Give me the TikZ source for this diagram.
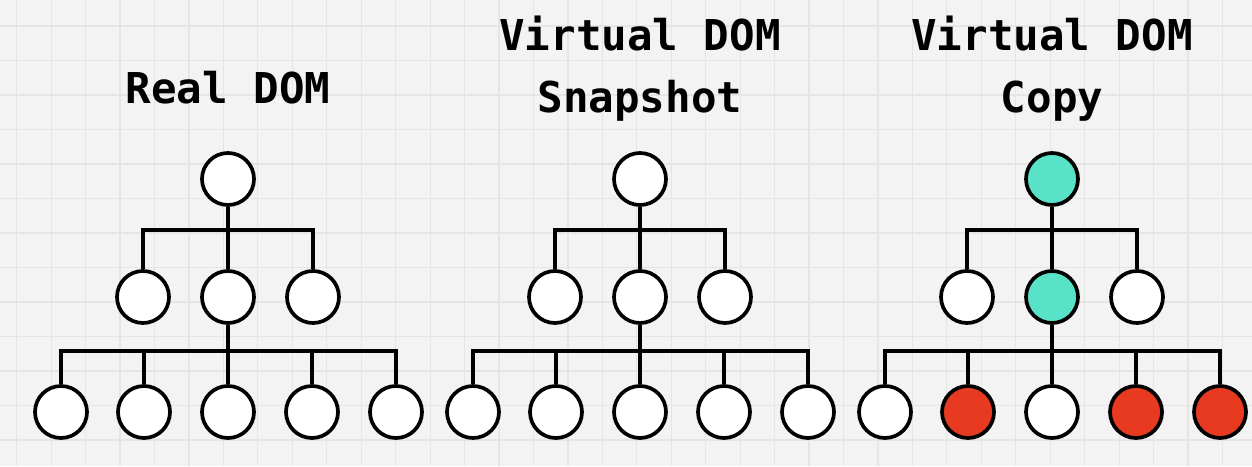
\documentclass[tikz,border=0pt]{standalone}
\usepackage{fontspec}
\setmonofont{DejaVu Sans Mono}
\definecolor{paper}{HTML}{F3F3F3}
\definecolor{gridgray}{HTML}{E5E5E5}
\definecolor{mint}{RGB}{88,226,200}
\definecolor{alert}{RGB}{232,58,32}
\tikzset{
  domnode/.style={circle, draw=black, line width=3.7pt, minimum size=52pt, inner sep=0pt, fill=white},
  link/.style={line width=3.7pt},
  title/.style={font=\ttfamily\bfseries\fontsize{42.5}{50}\selectfont, anchor=base, inner sep=0pt},
  gridline/.style={draw=gridgray, line width=1.2pt},
  % highlighted nodes of the copied tree
  hl/c-r/.style={fill=mint},
  hl/c-m2/.style={fill=mint},
  hl/c-l2/.style={fill=alert},
  hl/c-l4/.style={fill=alert},
  hl/c-l5/.style={fill=alert},
}
\begin{document}
\begin{tikzpicture}[x=1pt,y=-1pt]
  \fill[paper] (0,0) rectangle (1252,466);
  \useasboundingbox (0,0) rectangle (1252,466);
  % background grid
  \foreach \k in {0,...,36} {
    \draw[gridline] ({16.7+34.45*\k},0) -- ++(0,466);
  }
  \foreach \k in {0,...,13} {
    \draw[gridline] (0,{26+34.5*\k}) -- ++(1252,0);
  }
  % titles
  \node[title] (t1)  at (228,103) {Real DOM};
  \node[title] (t2a) at (640,50)  {Virtual DOM};
  \node[title] (t2b) at (640,112) {Snapshot};
  \node[title] (t3a) at (1052,50) {Virtual DOM};
  \node[title] (t3b) at (1052,112) {Copy};
  % three trees
  \foreach \t/\ox in {a/0, b/412, c/824} {
    \coordinate (\t-j1) at (228+\ox,230);
    \coordinate (\t-j2) at (228+\ox,351);
    \node[domnode, hl/\t-r/.try] (\t-r) at (228+\ox,179) {};
    \node[domnode, hl/\t-m1/.try] (\t-m1) at (143+\ox,297) {};
    \node[domnode, hl/\t-m2/.try] (\t-m2) at (228+\ox,297) {};
    \node[domnode, hl/\t-m3/.try] (\t-m3) at (313+\ox,297) {};
    \node[domnode, hl/\t-l1/.try] (\t-l1) at (61+\ox,412) {};
    \node[domnode, hl/\t-l2/.try] (\t-l2) at (144+\ox,412) {};
    \node[domnode, hl/\t-l3/.try] (\t-l3) at (228+\ox,412) {};
    \node[domnode, hl/\t-l4/.try] (\t-l4) at (312+\ox,412) {};
    \node[domnode, hl/\t-l5/.try] (\t-l5) at (396+\ox,412) {};
    % root to second level
    \draw[link] (\t-r) -- (\t-m2);
    \draw[link] (\t-m1.north) |- (\t-m3.north |- \t-j1) -- (\t-m3.north);
    % middle node to leaves
    \draw[link] (\t-m2) -- (\t-l3);
    \draw[link] (\t-l1.north) |- (\t-l5.north |- \t-j2) -- (\t-l5.north);
    \draw[link] (\t-l2.north) -- (\t-l2.north |- \t-j2);
    \draw[link] (\t-l4.north) -- (\t-l4.north |- \t-j2);
  }
\end{tikzpicture}
\end{document}
